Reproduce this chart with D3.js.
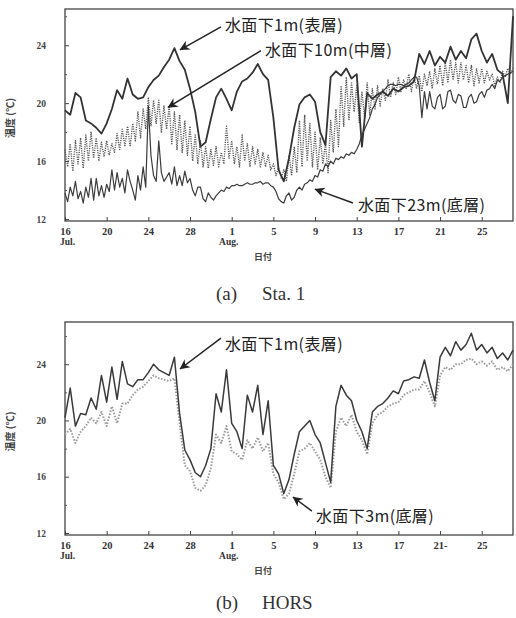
<!DOCTYPE html>
<html>
<head>
<meta charset="utf-8">
<script src="https://cdn.jsdelivr.net/npm/d3@7"></script>
<style>
body { margin: 0; background: #fff; }
svg { display: block; }
</style>
</head>
<body>
<script>
// days counted from Jul 16; most series one value every half day,
// the noisier Sta.1 deep series every quarter day
const halfDay = 0.5, quarterDay = 0.25;
const tickDays = [0, 4, 8, 12, 16, 20, 24, 28, 32, 36, 40];
const tickLabelsA = ["16", "20", "24", "28", "1", "5", "9", "13", "17", "21", "25"];
const tickLabelsB = ["16", "20", "24", "28", "1", "5", "9", "13", "17", "21-", "25"];
const monthDays = [0, 16];
const monthNames = ["Jul.", "Aug."];
const yTicks = [12, 16, 20, 24];
const yMinor = [14, 18, 22, 26];

// Sta.1
const sta1m = [19.5, 19.2, 20.7, 20.4, 18.8, 18.6, 18.3, 17.9, 18.6, 19.6,
  20.9, 20.3, 21.7, 20.6, 20.3, 20.4, 21.1, 21.6, 21.9, 22.5,
  23.0, 23.8, 22.9, 22.3, 21.0, 19.4, 17.0, 17.3, 18.9, 20.4,
  21.0, 20.3, 19.5, 20.8, 21.5, 21.7, 22.1, 22.7, 22.0, 21.6,
  19.0, 15.4, 14.6, 16.2, 18.3, 19.9, 20.4, 20.6, 20.1, 18.0,
  17.1, 21.8, 22.2, 21.9, 22.4, 21.7, 22.0, 17.0, 20.7, 20.3,
  20.6, 20.8, 20.5, 21.0, 20.8, 21.1, 21.2, 21.5, 23.4, 22.7,
  23.6, 22.6, 23.2, 22.8, 23.9, 23.0, 23.6, 23.1, 24.4, 24.8,
  23.6, 22.8, 23.4, 22.3, 22.0, 20.0, 26.0];
const sta10m = [16.8, 15.6, 17.2, 15.3, 17.4, 15.8, 17.6, 15.5,
  17.8, 16.0, 18.0, 16.2, 17.6, 16.0, 17.3, 16.3, 17.4, 16.4, 17.2, 16.6,
  17.9, 16.8, 18.2, 17.0, 18.4, 17.0, 18.6, 17.4, 19.4, 17.6, 19.6, 18.2,
  20.4, 18.4, 20.2, 18.6, 20.2, 18.0, 19.8, 18.2, 19.8, 17.2, 19.4, 16.8,
  19.2, 16.6, 18.8, 16.4, 18.4, 16.0, 17.8, 15.8, 17.4, 15.6, 17.0, 15.5,
  16.8, 15.7, 17.0, 15.6, 16.6, 15.8, 18.4, 16.2, 17.4, 15.8, 17.0, 15.6,
  17.8, 16.0, 17.2, 15.6, 17.0, 15.8, 16.8, 15.6, 16.6, 15.6, 16.4, 15.4,
  15.8, 15.0, 15.6, 14.8, 15.4, 14.6, 16.4, 15.0, 17.0, 15.2, 18.8, 15.6,
  19.2, 16.0, 18.6, 15.6, 18.0, 15.4, 17.6, 15.8, 17.2, 15.2, 18.8, 16.6,
  19.6, 17.0, 21.2, 18.4, 21.8, 18.8, 21.4, 19.4, 21.2, 18.6, 20.8, 19.0,
  21.4, 19.2, 21.0, 19.6, 21.2, 19.8, 21.0, 20.2, 21.6, 20.4, 21.4, 20.6,
  21.8, 20.8, 21.6, 21.0, 22.0, 20.8, 21.8, 21.0, 21.9, 20.8, 22.0, 21.2,
  22.2, 21.0, 22.4, 21.3, 22.6, 21.2, 22.8, 21.4, 23.0, 21.6, 22.8, 21.4,
  22.8, 21.6, 22.6, 21.4, 22.6, 21.2, 22.4, 21.4, 22.4, 21.4, 22.2, 21.6,
  22.0, 21.2, 21.8, 21.4, 22.2, 21.8, 22.4, 22.0, 22.4];
const sta23m = [13.8, 13.2, 14.2, 13.6, 14.6, 13.4, 13.9, 13.1,
  14.2, 13.5, 14.8, 13.3, 14.8, 13.6, 14.3, 13.5, 14.4, 13.9, 15.4, 14.0,
  15.2, 14.2, 14.8, 13.8, 15.4, 14.6, 14.0, 13.3, 15.0, 14.0, 15.6, 14.2,
  19.8, 16.4, 15.0, 14.6, 17.4, 15.2, 14.6, 14.9, 15.2, 14.4, 15.6, 14.3,
  15.0, 14.3, 15.3, 14.5, 14.8, 14.0, 13.6, 14.2, 14.2, 13.4, 13.2, 13.8,
  13.5, 13.3, 13.6, 13.8, 14.0, 13.9, 14.2, 14.1, 14.3, 14.3, 14.4, 14.3,
  14.3, 14.4, 14.5, 14.4, 14.4, 14.5, 14.5, 14.6, 14.4, 14.5, 14.5, 14.3,
  14.2, 13.9, 13.4, 13.2, 13.1, 13.6, 13.8, 13.3, 13.5, 14.0, 14.2, 14.0,
  14.4, 14.5, 14.7, 14.6, 15.0, 14.9, 15.4, 15.3, 15.8, 15.6, 16.0, 15.8,
  16.2, 16.1, 16.3, 16.2, 16.5, 16.4, 16.6, 16.5, 16.8, 17.2, 17.8, 18.2,
  18.6, 19.0, 19.6, 19.9, 20.4, 20.6, 20.8, 21.0, 21.2, 21.3, 21.3, 21.2,
  21.3, 21.3, 21.2, 21.3, 21.4, 21.6, 21.8, 21.8, 21.2, 19.0, 20.8, 19.6,
  20.8, 19.8, 19.6, 20.4, 20.6, 19.6, 19.8, 20.8, 20.9, 20.2, 20.0, 20.6,
  20.5, 19.7, 19.7, 20.4, 20.6, 20.0, 20.1, 20.6, 20.8, 20.4, 20.9, 21.0,
  21.3, 21.0, 21.6, 21.5, 21.8, 21.9, 22.0, 22.1, 22.2];

// HORS
const hors1m = [20.2, 22.3, 19.6, 20.5, 20.4, 21.6, 20.8, 23.2, 21.3, 23.8,
  21.5, 24.2, 22.6, 22.4, 22.9, 22.9, 23.4, 24.0, 23.6, 23.4,
  23.2, 24.5, 20.5, 17.9, 17.2, 16.3, 16.0, 16.8, 18.0, 21.9,
  20.6, 23.6, 19.8, 19.2, 18.0, 21.8, 20.6, 22.5, 19.0, 21.4,
  16.8, 16.2, 14.8, 15.8, 17.6, 19.2, 19.6, 20.0, 19.0, 18.4,
  17.0, 15.6, 21.0, 22.5, 21.8, 21.4, 20.0, 19.2, 18.0, 20.6,
  21.0, 21.2, 21.6, 22.1, 21.9, 22.8, 22.9, 23.1, 23.0, 24.3,
  22.7, 21.4, 24.5, 25.2, 24.6, 25.6, 25.0, 25.4, 26.2, 25.0,
  25.4, 24.8, 25.2, 24.4, 24.8, 24.3, 25.0];
const hors3m = [19.0, 19.4, 18.4, 19.2, 19.6, 20.2, 19.8, 20.6, 19.6, 21.0,
  19.8, 21.2, 21.2, 21.8, 22.2, 22.4, 22.8, 23.2, 23.0, 22.9,
  22.8, 23.0, 19.8, 16.8, 16.4, 15.2, 15.0, 15.4, 16.6, 19.0,
  18.4, 19.6, 17.8, 17.6, 17.2, 18.6, 18.0, 18.8, 17.8, 18.4,
  16.2, 15.6, 14.4, 14.8, 16.2, 17.8, 18.0, 18.4, 17.8, 17.2,
  16.0, 15.2, 19.2, 20.2, 19.6, 20.4, 19.2, 18.6, 17.6, 19.8,
  20.4, 20.6, 21.0, 21.2, 21.3, 21.8, 22.0, 22.2, 22.2, 22.8,
  22.0, 21.0, 23.2, 23.8, 23.6, 24.0, 24.0, 24.3, 24.4, 24.0,
  24.2, 23.9, 24.2, 23.6, 23.8, 23.5, 24.0];

const width = 516, height = 618;
const svg = d3.select("body").append("svg")
  .attr("width", width)
  .attr("height", height)
  .attr("viewBox", [0, 0, width, height]);

svg.append("defs").append("marker")
  .attr("id", "head")
  .attr("viewBox", "0 0 10 10")
  .attr("refX", 9.5).attr("refY", 5)
  .attr("markerUnits", "userSpaceOnUse")
  .attr("markerWidth", 14).attr("markerHeight", 10)
  .attr("orient", "auto")
  .append("path")
  .attr("d", "M0,0 L10,5 L0,10 L3,5 z")
  .attr("fill", "#222");

const x = d3.scaleLinear().domain([0, 43]).range([65, 513]);

const panels = [
  {
    top: 9, bottom: 221, ymax: 26.5,
    labels: tickLabelsA, caption: ["(a)", "Sta. 1"], captionY: 300,
    series: [
      {values: sta10m, step: quarterDay, stroke: "#555", width: 1.4, dash: "1.1,1.2"},
      {values: sta23m, step: quarterDay, stroke: "#3c3c3c", width: 1.2, dash: null},
      {values: sta1m, step: halfDay, stroke: "#333", width: 1.8, dash: null}
    ],
    notes: [
      {text: "水面下1m(表層)", at: [15.35, 25.0], from: [14.97, 25.26], to: [11.04, 23.68]},
      {text: "水面下10m(中層)", at: [19.19, 23.27], from: [18.81, 23.62], to: [9.88, 19.7]},
      {text: "水面下23m(底層)", at: [28.12, 12.55], from: [27.64, 13.1], to: [23.99, 14.06]}
    ]
  },
  {
    top: 322, bottom: 535, ymax: 27,
    labels: tickLabelsB, caption: ["(b)", "HORS"], captionY: 609,
    series: [
      {values: hors3m, step: halfDay, stroke: "#9a9a9a", width: 2, dash: "1.5,1.6"},
      {values: hors1m, step: halfDay, stroke: "#3a3a3a", width: 1.5, dash: null}
    ],
    notes: [
      {text: "水面下1m(表層)", at: [15.35, 25.0], from: [14.97, 25.86], to: [11.04, 23.66]},
      {text: "水面下3m(底層)", at: [24.09, 12.78], from: [23.7, 13.56], to: [21.88, 14.56]}
    ]
  }
];

panels.forEach(p => {
  const g = svg.append("g");
  const y = d3.scaleLinear().domain([12, p.ymax]).range([p.bottom - 2, p.top]);

  g.append("rect")
    .attr("x", x(0)).attr("y", p.top)
    .attr("width", x(43) - x(0)).attr("height", p.bottom - p.top)
    .attr("fill", "none").attr("stroke", "#444").attr("stroke-width", 1.3);

  p.series.forEach(s => {
    const line = d3.line()
      .x((d, i) => x(i * s.step))
      .y(d => y(d));
    g.append("path")
      .datum(s.values)
      .attr("d", line)
      .attr("fill", "none")
      .attr("stroke", s.stroke)
      .attr("stroke-width", s.width)
      .attr("stroke-linejoin", "round")
      .attr("stroke-dasharray", s.dash);
  });

  // y axis
  const yAxis = g.append("g")
    .attr("transform", `translate(${x(0)},0)`)
    .call(d3.axisLeft(y).tickValues(yTicks).tickSize(-4).tickPadding(19));
  yAxis.select(".domain").remove();
  yAxis.selectAll("line").attr("stroke", "#444");
  yAxis.selectAll("text")
    .attr("font-family", "Liberation Serif").attr("font-weight", "bold")
    .attr("font-size", 9.5).attr("fill", "#444");

  const yMin = g.append("g")
    .attr("transform", `translate(${x(0)},0)`)
    .call(d3.axisLeft(y).tickValues(yMinor).tickSize(-2).tickFormat(""));
  yMin.select(".domain").remove();
  yMin.selectAll("line").attr("stroke", "#555");

  // x axis
  const xAxis = g.append("g")
    .attr("transform", `translate(0,${p.bottom})`)
    .call(d3.axisBottom(x).tickValues(tickDays)
      .tickFormat((d, i) => p.labels[i]).tickSize(-4).tickPadding(6.5));
  xAxis.select(".domain").remove();
  xAxis.selectAll("line").attr("stroke", "#444");
  xAxis.selectAll("text")
    .attr("font-family", "Liberation Serif").attr("font-weight", "bold")
    .attr("font-size", 10.5).attr("fill", "#333");

  g.selectAll(".month")
    .data(monthDays)
    .join("text")
    .attr("x", (d, i) => i === 0 ? x(d) - 5 : x(d) - 3)
    .attr("y", p.bottom + 23.5)
    .attr("text-anchor", (d, i) => i === 0 ? "start" : "middle")
    .attr("font-family", "Liberation Serif").attr("font-weight", "bold")
    .attr("font-size", 9.5).attr("fill", "#333")
    .text((d, i) => monthNames[i]);

  g.append("text")
    .attr("x", 263).attr("y", p.bottom + 39)
    .attr("text-anchor", "middle")
    .attr("font-family", "Noto Sans CJK JP").attr("font-weight", "bold")
    .attr("font-size", 9).attr("fill", "#444")
    .text("日付");

  g.append("text")
    .attr("transform", `translate(14,${(p.top + p.bottom) / 2 + 3}) rotate(-90)`)
    .attr("text-anchor", "middle")
    .attr("font-family", "Noto Sans CJK JP").attr("font-weight", "bold")
    .attr("font-size", 10).attr("fill", "#444")
    .text("温度 (℃)");

  // annotations
  p.notes.forEach(n => {
    g.append("line")
      .attr("x1", x(n.from[0])).attr("y1", y(n.from[1]))
      .attr("x2", x(n.to[0])).attr("y2", y(n.to[1]))
      .attr("stroke", "#222").attr("stroke-width", 1.5)
      .attr("marker-end", "url(#head)");
    g.append("text")
      .attr("x", x(n.at[0])).attr("y", y(n.at[1]))
      .attr("font-family", "Noto Sans CJK JP")
      .attr("font-size", 16).attr("letter-spacing", 0.4).attr("fill", "#222")
      .text(n.text);
  });

  svg.append("text")
    .attr("x", 216).attr("y", p.captionY)
    .attr("font-family", "Liberation Serif").attr("font-size", 19).attr("fill", "#333")
    .text(p.caption[0]);
  svg.append("text")
    .attr("x", 262).attr("y", p.captionY)
    .attr("font-family", "Liberation Serif").attr("font-size", 19).attr("fill", "#333")
    .text(p.caption[1]);
});
</script>
</body>
</html>
